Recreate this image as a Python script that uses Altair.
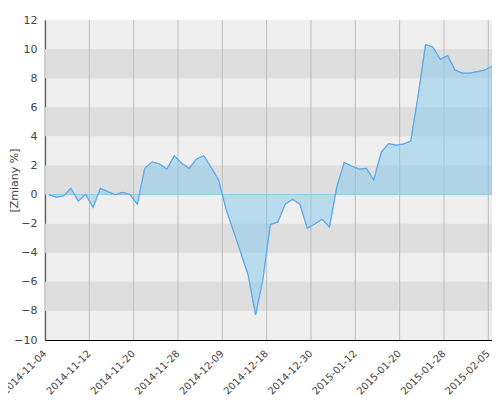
import altair as alt
import pandas as pd

# fund value change [%] per trading session (index-based x axis)
values = [
    0.0, -0.17, -0.1, 0.43, -0.45, 0.0, -0.88, 0.43, 0.2, 0.0,
    0.15, 0.0, -0.65, 1.8, 2.25, 2.1, 1.75, 2.67, 2.15, 1.8,
    2.44, 2.67, 1.85, 1.0, -1.0, -2.5, -4.0, -5.55, -8.28, -5.8,
    -2.05, -1.9, -0.67, -0.33, -0.67, -2.32, -2.03, -1.7, -2.25, 0.55,
    2.2, 1.96, 1.75, 1.8, 1.0, 2.9, 3.5, 3.4, 3.47, 3.68,
    6.8, 10.3, 10.15, 9.3, 9.55, 8.55, 8.35, 8.35, 8.45, 8.55,
    8.83,
]
tick_labels = [
    "2014-11-04", "2014-11-12", "2014-11-20", "2014-11-28", "2014-12-09",
    "2014-12-18", "2014-12-30", "2015-01-12", "2015-01-20", "2015-01-28",
    "2015-02-05",
]
band_lo = [8, 4, 0, -4, -8]
band_hi = [10, 6, 2, -2, -6]

W, H = 447, 320
step = 6

df = pd.DataFrame({"i": list(range(len(values))), "v": values})
bands = pd.DataFrame({"lo": band_lo, "hi": band_hi})
tick_vals = [step * k - 0.5 for k in range(len(tick_labels))]
ticks = pd.DataFrame({"t": tick_vals})

label_expr = "[" + ",".join(f"'{t}'" for t in tick_labels) + "][round((datum.value + 0.5) / %d)]" % step

x_scale = alt.Scale(domain=[-0.5, len(values) - 1], nice=False, zero=False)
y_scale = alt.Scale(domain=[-10, 12], nice=False, zero=False)

font = "DejaVu Sans"

x_axis = alt.Axis(
    values=tick_vals,
    labelExpr=label_expr,
    labelAngle=315,
    labelAlign="right",
    labelBaseline="top",
    labelPadding=8,
    tickOffset=-4,
    labelFont=font,
    labelFontSize=10,
    labelColor="#444444",
    labelOverlap=False,
    labelFlush=False,
    labelBound=False,
    tickSize=0,
    grid=False,
    domainColor="#000000",
    domainWidth=1.2,
    title=None,
)
y_axis = alt.Axis(
    values=list(range(-10, 13, 2)),
    labelFont=font,
    labelFontSize=11,
    labelColor="#444444",
    labelPadding=8,
    tickSize=0,
    grid=False,
    domainColor="#000000",
    domainWidth=1.2,
    title="[Zmiany %]",
    titleFont=font,
    titleFontSize=11,
    titleFontWeight="normal",
    titleColor="#444444",
    titleX=-31,
    titleY=H / 2,
    titleAngle=270,
    titleAlign="center",
    titleBaseline="middle",
)

band_layer = alt.Chart(bands).mark_rect(color="#dedede").encode(
    x=alt.value(0),
    x2=alt.value(W),
    y=alt.Y("lo:Q", scale=y_scale, axis=y_axis),
    y2="hi:Q",
)

grid_layer = alt.Chart(ticks).mark_rule(color="#bdbdbd", strokeWidth=1).encode(
    x=alt.X("t:Q", scale=x_scale, axis=x_axis),
    y=alt.value(0),
    y2=alt.value(H),
)

area_layer = alt.Chart(df).mark_area(
    fill="#81c9ed", fillOpacity=0.5, stroke="#8fcbe8", strokeWidth=1
).encode(
    x=alt.X("i:Q", scale=x_scale, axis=x_axis),
    y=alt.Y("v:Q", scale=y_scale, axis=y_axis),
    y2=alt.datum(0),
)

line_layer = alt.Chart(df).mark_line(color="#5ea8ee", strokeWidth=1.2).encode(
    x=alt.X("i:Q", scale=x_scale, axis=x_axis),
    y=alt.Y("v:Q", scale=y_scale, axis=y_axis),
)

chart = alt.layer(band_layer, grid_layer, area_layer, line_layer).properties(
    width=W,
    height=H,
    autosize=alt.AutoSizeParams(type="none"),
    padding={"left": 37, "top": 12, "right": 0, "bottom": 60},
).configure_view(fill="#efefef", stroke=None)

chart.save("out.html", embed_options={"renderer": "svg", "actions": False})
